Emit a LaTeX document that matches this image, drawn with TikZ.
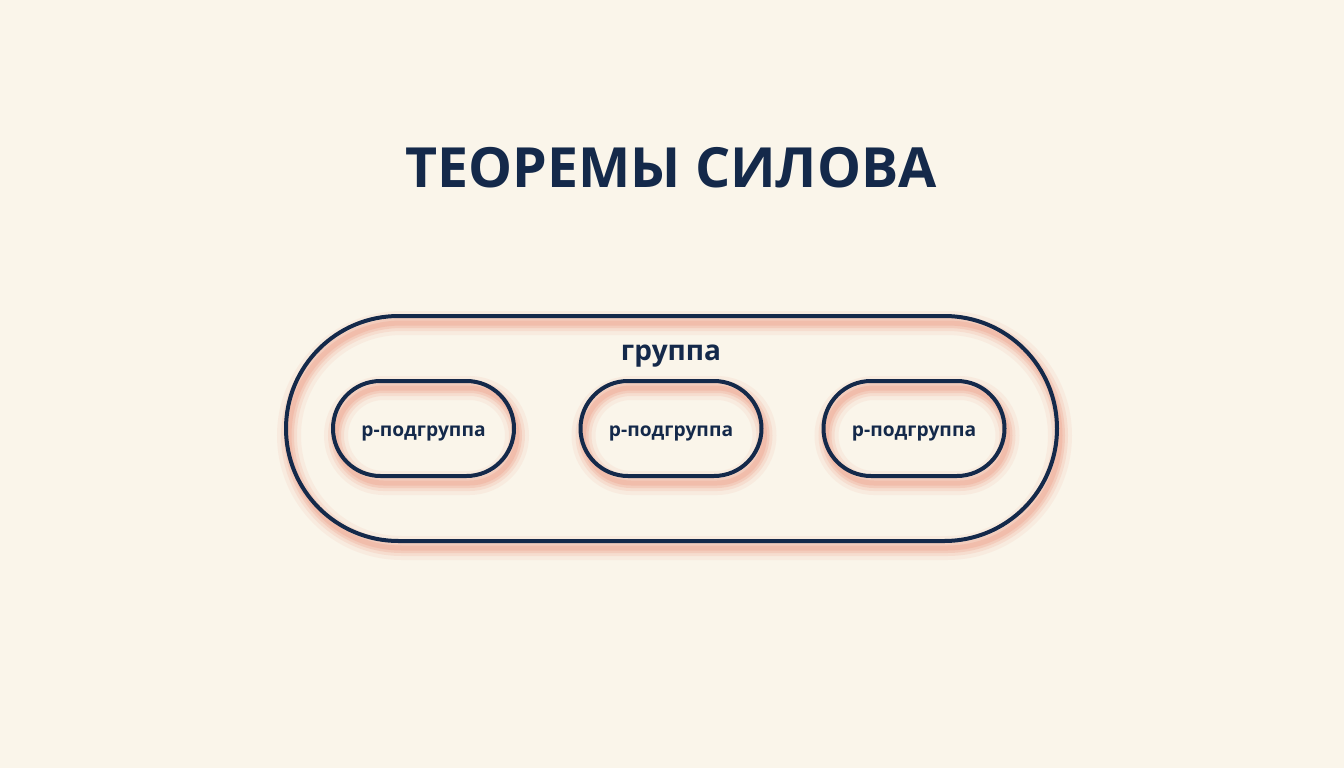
\documentclass[tikz,border=0pt]{standalone}
\usepackage{fontspec}
\setmainfont{Open Sans}
\usetikzlibrary{shapes.misc}
\definecolor{navy}{HTML}{14294A}
\definecolor{cream}{HTML}{FAF5EA}
\definecolor{salmon}{HTML}{EFA893}
\tikzset{
  glow/.style={
    preaction={draw=salmon,line width=12pt,opacity=0.12,transform canvas={shift={(1.5pt,-3.5pt)}}},
    preaction={draw=salmon,line width=8pt,opacity=0.2,transform canvas={shift={(1.5pt,-3.5pt)}}},
    preaction={draw=salmon,line width=5pt,opacity=0.3,transform canvas={shift={(1.5pt,-3.5pt)}}},
    preaction={draw=salmon,line width=2.5pt,opacity=0.4,transform canvas={shift={(1.5pt,-3.5pt)}}}},
  pill/.style={rounded rectangle,draw=navy,line width=2pt,glow,inner sep=0pt,text=navy}
}
\begin{document}
\begin{tikzpicture}[x=0.5pt,y=0.5pt]
\useasboundingbox[fill=cream] (0,0) rectangle (1344,768);
\node[text=navy] (title) at (671,600) {\fontsize{27.7}{32}\selectfont\bfseries ТЕОРЕМЫ СИЛОВА};
\node[pill,minimum width=385.5pt,minimum height=112.5pt] (group) at (671.5,339.5) {};
\node[text=navy] (grouplabel) at (671,412) {\fontsize{14}{16}\selectfont\bfseries группа};
\foreach \x/\n in {423.5/left,671/mid,914/right}{
  \node[pill,minimum width=90.5pt,minimum height=47.5pt,text height=7.5pt,text depth=0pt,font=\fontsize{9.6}{12}\selectfont\bfseries] (sub\n) at (\x,339.5) {p-подгруппа};
}
\end{tikzpicture}
\end{document}
